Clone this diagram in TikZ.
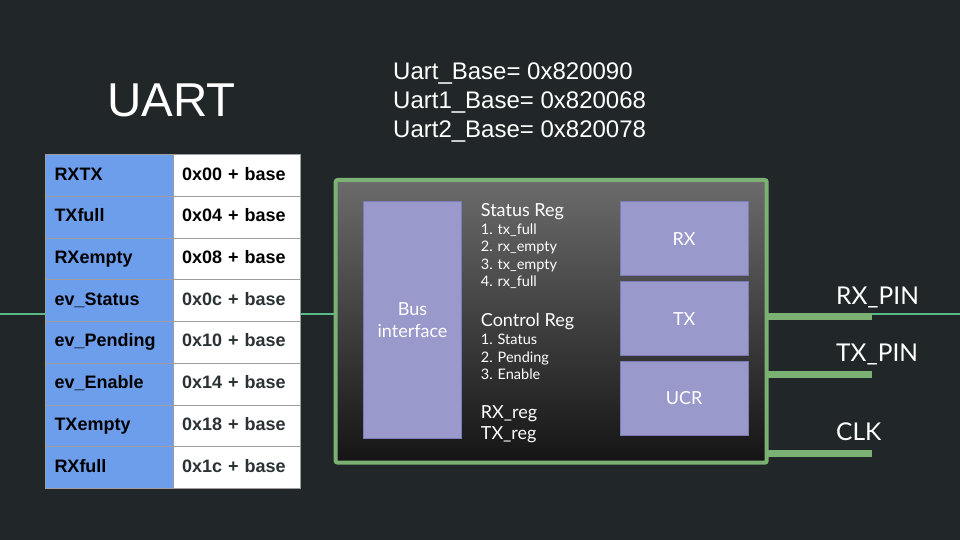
\documentclass[tikz,border=0pt]{standalone}
\usepackage{fontspec}
\setmainfont{Liberation Sans}
\newfontfamily\lato{Lato}
\definecolor{bg}{HTML}{212729}
\definecolor{cellblue}{HTML}{6D9EEB}
\definecolor{gridgray}{HTML}{9E9E9E}
\definecolor{mint}{HTML}{57BB8A}
\definecolor{sage}{HTML}{7BB274}
\definecolor{lav}{HTML}{9999CC}
\definecolor{lavline}{HTML}{7C7CB4}
\definecolor{darktxt}{HTML}{2B3235}
\tikzset{
  cell/.style={draw=gridgray, line width=1pt, anchor=north west, inner xsep=9pt,
    text width=109.7pt, minimum height=41.7pt, text height=13pt, text depth=4pt,
    align=left, font=\bfseries\fontsize{18}{20}\selectfont},
  keycell/.style={cell, fill=cellblue, text=black},
  valcell/.style={cell, fill=white},
  unitbox/.style={draw=lavline, line width=1pt, fill=lav, text=white, align=center,
    font=\lato\fontsize{18}{21.6}\selectfont},
  head/.style={anchor=base west, text=white, inner sep=0pt, font=\lato\fontsize{18}{20}\selectfont},
  item/.style={anchor=base west, text=white, inner sep=0pt, font=\lato\fontsize{14.5}{16}\selectfont},
  pinlabel/.style={anchor=base west, text=white, inner sep=0pt, font=\lato\fontsize{24.5}{26}\selectfont},
  basetext/.style={anchor=base west, text=white, inner sep=0pt, font=\fontsize{24}{26}\selectfont},
  pinline/.style={draw=sage, line width=7.5pt},
  busline/.style={draw=mint, line width=1.5pt}
}
\begin{document}
\begin{tikzpicture}[x=1pt,y=-1pt]
\fill[bg] (0,0) rectangle (960,540);
\useasboundingbox (0,0) rectangle (960,540);

% long thin signal line (behind everything)
\coordinate (lend) at (0,314);
\coordinate (rend) at (960,314);
\draw[busline] (lend) -- (rend);

% title
\node[anchor=base west, text=white, inner sep=0pt, font=\fontsize{47.5}{50}\selectfont] (title) at (107.2,116.7) {UART};

% base addresses
\node[basetext] (b0) at (393,79.3) {Uart\_Base= 0x820090};
\node[basetext] (b1) at (393,108.3) {Uart1\_Base= 0x820068};
\node[basetext] (b2) at (393,137.3) {Uart2\_Base= 0x820078};

% register table
\foreach \i/\k/\v/\c in {0/RXTX/0x00/black, 1/TXfull/0x04/black, 2/RXempty/0x08/black,
  3/ev\_Status/0x0c/darktxt, 4/ev\_Pending/0x10/darktxt, 5/ev\_Enable/0x14/darktxt,
  6/TXempty/0x18/darktxt, 7/RXfull/0x1c/darktxt}{
  \node[keycell] (k\i) at (45,154.3+41.7*\i) {\k};
  \node[valcell, text=\c] (v\i) at (172.7,154.3+41.7*\i) {\v{} + base};
}

% main block
\node[draw=sage, line width=4pt, rounded corners=2pt, top color=black!58, bottom color=black!92,
  minimum width=431pt, minimum height=282.7pt, inner sep=0pt] (uart) at (551.2,321.35) {};

\node[unitbox, minimum width=98.4pt, minimum height=236.6pt, inner sep=0pt] (bus) at (412.5,320) {Bus\\interface};
\node[unitbox, minimum width=128.3pt, minimum height=74pt, inner sep=0pt] (rx) at (684.15,238.7) {RX};
\node[unitbox, minimum width=128.3pt, minimum height=74pt, inner sep=0pt] (tx) at (684.15,318.7) {TX};
\node[unitbox, minimum width=128.3pt, minimum height=74.7pt, inner sep=0pt] (ucr) at (684.15,398.35) {UCR};

\node[head] (sreg) at (480.7,216) {Status Reg};
\node[item] (s1) at (480.7,234.3) {1. tx\_full};
\node[item] (s2) at (480.7,251.8) {2. rx\_empty};
\node[item] (s3) at (480.7,269.3) {3. tx\_empty};
\node[item] (s4) at (480.7,286.8) {4. rx\_full};
\node[head] (creg) at (480.7,326.7) {Control Reg};
\node[item] (c1) at (480.7,344.7) {1. Status};
\node[item] (c2) at (480.7,362.3) {2. Pending};
\node[item] (c3) at (480.7,379.7) {3. Enable};
\node[head] (rxreg) at (480.7,418.3) {RX\_reg};
\node[head] (txreg) at (480.7,439) {TX\_reg};

% pins
\coordinate (rxp) at (872.3,316.7);
\coordinate (txp) at (872.3,374.3);
\coordinate (clkp) at (872.3,453.3);
\draw[pinline] (uart.east |- rxp) ++(-2,0) -- (rxp);
\draw[pinline] (uart.east |- txp) ++(-2,0) -- (txp);
\draw[pinline] (uart.east |- clkp) ++(-2,0) -- (clkp);
\node[pinlabel] (rxl) at (836,304.3) {RX\_PIN};
\node[pinlabel] (txl) at (836,361) {TX\_PIN};
\node[pinlabel] (clkl) at (836,440.7) {CLK};
\end{tikzpicture}
\end{document}
